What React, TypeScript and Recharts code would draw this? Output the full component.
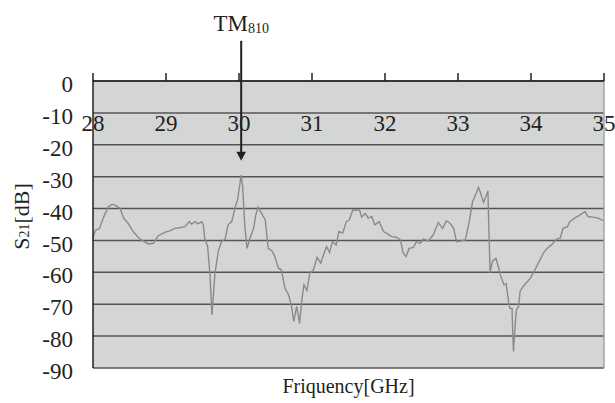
import { CartesianGrid, Line, LineChart, ReferenceLine, XAxis, YAxis } from 'recharts'

// frequency (GHz) and S21 (dB)
const freq = [
  28.0, 28.03, 28.09, 28.14, 28.21, 28.26, 28.3, 28.37, 28.42, 28.48, 28.55, 28.64, 28.76, 28.83, 28.89, 28.99,
  29.05, 29.12, 29.19, 29.26, 29.32, 29.35, 29.4, 29.44, 29.49, 29.51, 29.53, 29.57, 29.6, 29.63, 29.67, 29.72,
  29.76, 29.81, 29.85, 29.9, 29.95, 29.98, 30.0, 30.03, 30.05, 30.08, 30.11, 30.15, 30.2, 30.23, 30.26, 30.31,
  30.36, 30.4, 30.45, 30.49, 30.54, 30.58, 30.63, 30.68, 30.72, 30.75, 30.79, 30.83, 30.86, 30.89, 30.93, 30.97,
  31.02, 31.07, 31.12, 31.15, 31.2, 31.24, 31.28, 31.33, 31.37, 31.42, 31.47, 31.51, 31.56, 31.61, 31.65, 31.68,
  31.73, 31.77, 31.82, 31.86, 31.92, 31.98, 32.02, 32.09, 32.16, 32.21, 32.25, 32.29, 32.33, 32.39, 32.43, 32.48,
  32.53, 32.59, 32.66, 32.73, 32.79, 32.84, 32.89, 32.94, 32.98, 33.03, 33.1, 33.15, 33.2, 33.25, 33.28, 33.31,
  33.35, 33.38, 33.41, 33.42, 33.44, 33.47, 33.52, 33.55, 33.58, 33.63, 33.66, 33.69, 33.71, 33.74, 33.75, 33.76,
  33.78, 33.8, 33.83, 33.85, 33.89, 33.94, 33.99, 34.04, 34.1, 34.17, 34.22, 34.28, 34.35, 34.4, 34.44, 34.5,
  34.53, 34.6, 34.67, 34.74, 34.78, 34.85, 34.92, 34.99,
]

const s21 = [
  -49.3, -46.9, -46.2, -43.0, -39.4, -38.7, -38.9, -39.9, -43.0, -44.6, -47.2, -49.5, -51.1, -50.9, -48.6, -47.4,
  -47.0, -46.2, -46.0, -45.7, -44.1, -44.9, -44.1, -44.8, -44.1, -45.0, -49.3, -51.9, -60.0, -73.4, -60.3, -53.0,
  -50.4, -49.6, -45.1, -44.1, -39.4, -37.3, -34.2, -29.5, -33.1, -45.7, -52.5, -49.3, -46.2, -42.0, -39.6, -41.5,
  -43.6, -52.5, -53.2, -55.0, -58.7, -59.2, -65.0, -67.1, -70.7, -75.4, -70.7, -76.0, -68.7, -63.9, -65.7, -60.3,
  -59.2, -55.3, -57.1, -55.0, -51.9, -53.8, -50.4, -51.4, -47.2, -47.7, -44.1, -43.6, -40.4, -40.6, -40.4, -42.7,
  -41.5, -43.0, -42.5, -45.1, -44.1, -47.2, -47.7, -48.8, -49.0, -49.8, -54.0, -55.0, -52.5, -52.2, -50.4, -50.9,
  -49.5, -50.2, -48.3, -44.4, -46.2, -43.9, -44.6, -46.2, -50.4, -50.2, -49.8, -44.6, -37.8, -35.2, -33.3, -35.2,
  -38.1, -36.3, -34.5, -44.1, -60.1, -56.6, -55.6, -58.0, -60.8, -63.9, -63.6, -68.7, -71.3, -71.3, -79.1, -84.8,
  -77.5, -71.8, -70.7, -66.0, -64.5, -63.2, -61.9, -59.8, -57.1, -54.0, -52.5, -51.4, -49.6, -49.3, -46.2, -45.7,
  -44.1, -43.0, -42.0, -41.0, -42.5, -42.7, -43.0, -43.8,
]

const xTicks = [28, 29, 30, 31, 32, 33, 34, 35]
const yTicks = [0, -10, -20, -30, -40, -50, -60, -70, -80, -90]

// TM810 marker: peak frequency, arrow top and arrow tip (dB)
const markerFreq = 30.03
const markerTop = 12.6
const markerTip = -25

const data = freq.map((f, i) => ({ f, s21: s21[i] }))

const FONT = '"Liberation Serif", "Times New Roman", serif'
const INK = '#231f20'

function TopTick({ x, y, payload }: any) {
  return (
    <text x={x} y={y} dy={60} textAnchor="middle" fontSize={23} fontFamily={FONT} fill={INK}>
      {payload.value}
    </text>
  )
}

function YTitle({ viewBox }: any) {
  const cx = viewBox.x + 29
  const cy = viewBox.y + viewBox.height / 2 - 8
  return (
    <text
      x={cx}
      y={cy}
      transform={`rotate(-90 ${cx} ${cy})`}
      textAnchor="middle"
      fontSize={22}
      fontFamily={FONT}
      fill={INK}
    >
      S<tspan fontSize={14}>21</tspan>
      <tspan>[dB]</tspan>
    </text>
  )
}

function MarkerArrow(props: any) {
  const { x1, y1, x2, y2 } = props
  return (
    <g>
      <line x1={x1} y1={y1} x2={x2} y2={y2 - 8} stroke={INK} strokeWidth={2} />
      <polygon points={`${x2 - 4.8},${y2 - 9} ${x2 + 4.8},${y2 - 9} ${x2},${y2}`} fill={INK} />
      <text x={x1} y={y1 - 10} textAnchor="middle" fontSize={23} fontFamily={FONT} fill={INK}>
        TM<tspan fontSize={14} dy={2}>810</tspan>
      </text>
    </g>
  )
}

export default function App() {
  return (
    <div style={{ position: 'absolute', left: 0, top: 0, background: '#fff' }}>
      <LineChart width={615} height={403} data={data} margin={{ top: 0, right: 11, bottom: 0, left: 0 }}>
        <CartesianGrid vertical={false} fill="#d4d6d6" stroke="#575353" strokeWidth={1.5} />
        <XAxis
          dataKey="f"
          type="number"
          domain={[28, 35]}
          ticks={xTicks}
          interval={0}
          orientation="top"
          height={81}
          tickSize={8}
          tickLine={{ stroke: INK, strokeWidth: 1.5 }}
          axisLine={{ stroke: INK, strokeWidth: 1.5 }}
          tick={<TopTick />}
        />
        <XAxis
          xAxisId="title"
          dataKey="f"
          type="number"
          domain={[28, 35]}
          orientation="bottom"
          height={35}
          axisLine={false}
          tickLine={false}
          tick={false}
          label={{
            value: 'Friquency[GHz]',
            position: 'insideBottom',
            offset: 10,
            fontSize: 20,
            fontFamily: FONT,
            fill: INK,
          }}
        />
        <YAxis
          type="number"
          domain={[-90, 0]}
          ticks={yTicks}
          interval={0}
          width={93}
          tickLine={false}
          tickSize={0}
          tickMargin={20}
          axisLine={{ stroke: INK, strokeWidth: 1.5 }}
          tick={{ fontSize: 23, fontFamily: FONT, fill: INK, dy: 3 }}
          label={<YTitle />}
        />
        <ReferenceLine x={35} stroke="#a3a3a3" strokeWidth={1.5} />
        <Line
          type="linear"
          dataKey="s21"
          stroke="#8a8a8a"
          strokeWidth={1.4}
          dot={false}
          isAnimationActive={false}
        />
        <ReferenceLine
          segment={[
            { x: markerFreq, y: markerTop },
            { x: markerFreq, y: markerTip },
          ]}
          ifOverflow="visible"
          shape={<MarkerArrow />}
        />
      </LineChart>
    </div>
  )
}
